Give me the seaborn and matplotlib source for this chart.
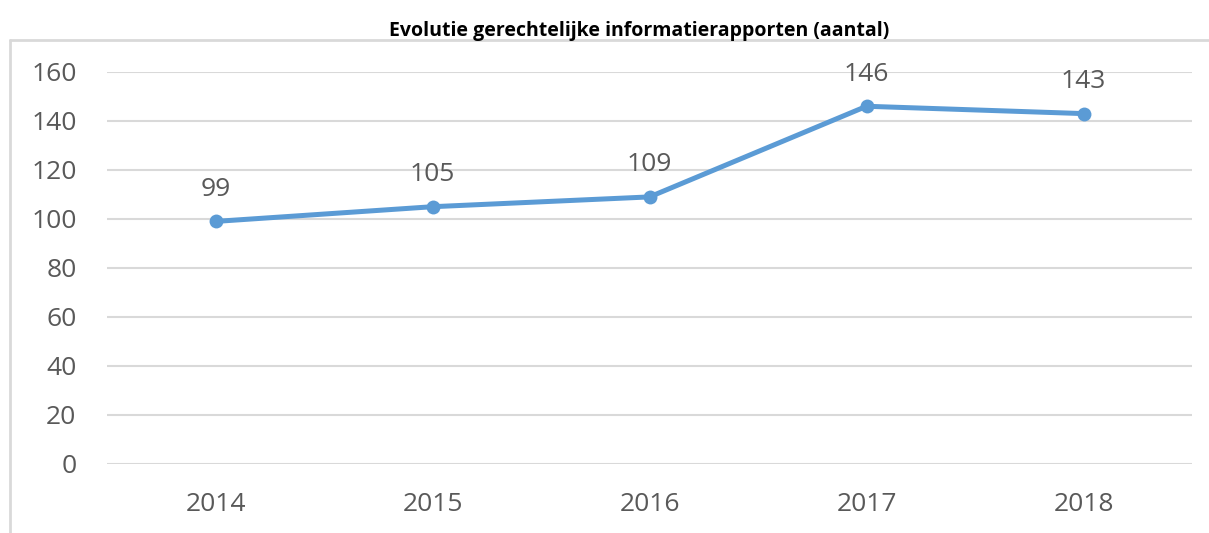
import matplotlib
matplotlib.use("Agg")
import matplotlib.pyplot as plt
from matplotlib.lines import Line2D
import seaborn as sns
import pandas as pd

# data
years = ["2014", "2015", "2016", "2017", "2018"]
reports = [99, 105, 109, 146, 143]

title = "Evolutie gerechtelijke informatierapporten (aantal)"
line_color = "#5B9BD5"
text_color = "#595959"
grid_color = "#D9D9D9"

sns.set_style("white")
plt.rcParams["font.family"] = ["Open Sans", "DejaVu Sans"]

df = pd.DataFrame({"jaar": years, "aantal": reports})
df["pos"] = range(len(df))

fig = plt.figure(figsize=(12.09, 5.33), dpi=100)
ax = fig.add_axes([0.0885, 0.1295, 0.8975, 0.7355])

sns.lineplot(data=df, x="pos", y="aantal", ax=ax, color=line_color,
             linewidth=3.6, marker="o", markersize=10, markeredgewidth=0)

for _, row in df.iterrows():
    ax.annotate(str(row["aantal"]), (row["pos"], row["aantal"]),
                xytext=(0, 14), textcoords="offset points",
                ha="center", va="bottom", fontsize=19, color=text_color)

ax.set_xlim(-0.5, len(years) - 0.5)
ax.set_ylim(0, 160)
ax.set_yticks(range(0, 161, 20))
ax.set_xticks(df["pos"])
ax.set_xticklabels(years)
ax.set_xlabel("")
ax.set_ylabel("")
ax.tick_params(axis="both", length=0, labelsize=19, labelcolor=text_color)
ax.tick_params(axis="x", pad=20)
ax.tick_params(axis="y", pad=22)
ax.yaxis.grid(True, color=grid_color, linewidth=1.5)
ax.set_axisbelow(True)
for s in ax.spines.values():
    s.set_visible(False)

fig.text(0.529, 0.942, title, ha="center", va="center",
         fontsize=14, fontweight="bold", color="black")

# light chart border (top and left visible in the reference)
fig.add_artist(Line2D([0.0083, 1.0], [0.925, 0.925], color=grid_color, linewidth=2))
fig.add_artist(Line2D([0.0083, 0.0083], [0.0, 0.925], color=grid_color, linewidth=2))

fig.savefig("out.png", dpi=100)
